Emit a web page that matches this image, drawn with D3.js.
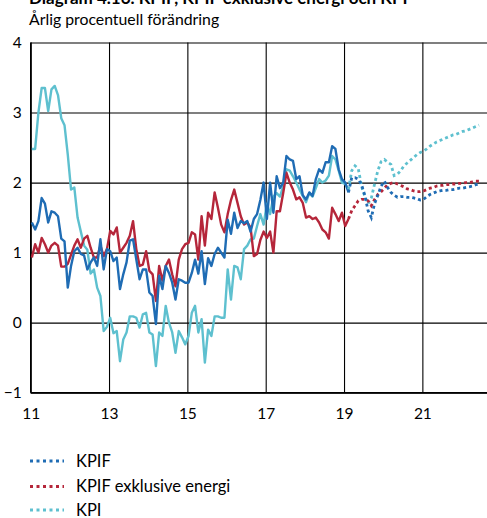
<!DOCTYPE html>
<html><head><meta charset="utf-8">
<script src="https://cdn.jsdelivr.net/npm/d3@7"></script>
<style>
html,body{margin:0;padding:0;background:#fff;}
svg{display:block;font-family:Lato,"Open Sans",sans-serif;}
</style></head>
<body>
<svg id="c" width="487" height="518"></svg>
<script>
const title = "Diagram 4.16. KPIF, KPIF exklusive energi och KPI";
const subtitle = "Årlig procentuell förändring";
const startYear = 2011;
const yTicks = [-1, 0, 1, 2, 3, 4];
const xTickYears = [2011, 2013, 2015, 2017, 2019, 2021];
const xTickLabels = ["11", "13", "15", "17", "19", "21"];
const seriesNames = ["KPIF", "KPIF exklusive energi", "KPI"];
const seriesColors = ["#1f6cb4", "#b5263a", "#5ec0cf"];

// Monthly outcomes from Jan 2011
const kpifActual = [1.43,1.33,1.45,1.78,1.7,1.43,1.59,1.57,1.52,1.2,1.16,0.5,0.81,1.02,1.07,0.98,0.96,0.76,0.86,0.93,0.81,1.19,0.76,1.05,
1.02,0.88,0.93,0.48,0.69,0.86,1.17,1.19,0.9,0.62,0.76,0.76,0.43,0.38,-0.02,0.67,0.48,0.81,0.71,0.57,0.33,0.62,0.6,0.57,
0.57,0.71,0.9,0.7,1.02,0.55,0.92,0.81,0.98,1.07,1.0,0.93,1.47,1.27,1.57,1.35,1.45,1.42,1.45,1.3,1.48,1.55,1.75,2.0,
1.48,2.0,1.57,2.09,1.92,2.0,2.38,2.33,2.31,2.05,2.09,1.82,1.76,1.86,1.81,2.05,2.19,2.14,2.29,2.29,2.52,2.48,2.19,2.05,
2.0,1.86];
const kpifExEnergyActual = [0.93,1.12,1.0,1.21,1.12,1.0,1.1,1.14,1.1,0.8,0.8,0.84,0.97,1.1,1.19,1.07,1.2,1.24,1.07,0.93,0.93,1.1,0.95,1.05,
1.31,1.26,1.36,1.0,1.07,1.14,1.24,1.45,1.05,0.81,0.83,1.02,0.74,0.69,0.31,0.81,0.6,0.81,0.9,0.69,0.52,0.9,1.05,1.12,
1.14,1.29,1.26,0.9,1.52,1.1,1.57,1.48,1.86,1.64,1.4,1.29,1.55,1.75,1.9,1.71,1.52,1.4,1.43,1.36,0.95,0.98,1.18,1.3,
1.21,1.3,1.0,1.59,1.59,1.85,2.14,2.0,1.9,1.76,1.79,1.71,1.5,1.52,1.48,1.5,1.43,1.33,1.29,1.2,1.64,1.55,1.45,1.57,
1.38,1.48];
const kpiActual = [2.48,2.48,3.0,3.35,3.35,3.02,3.33,3.38,3.25,2.92,2.82,2.4,1.9,1.93,1.5,1.3,1.1,1.04,0.7,0.76,0.5,0.38,-0.12,-0.06,
0.07,-0.15,-0.12,-0.55,-0.24,-0.14,0.09,0.09,0.07,-0.07,0.12,0.14,-0.14,-0.17,-0.62,-0.14,-0.19,0.24,0.0,-0.14,-0.43,-0.12,-0.21,-0.31,
-0.19,0.14,0.24,-0.14,0.05,-0.57,-0.1,-0.19,0.09,0.09,0.07,0.07,0.76,0.33,0.81,0.79,0.62,1.05,1.1,1.19,1.2,1.38,1.55,1.4,
1.7,1.55,1.8,1.85,1.8,1.95,2.19,2.17,2.09,2.0,1.9,1.81,1.72,1.85,1.8,1.92,2.05,2.0,2.03,2.1,2.38,2.33,2.17,2.0,
1.98,1.9];

// Monthly forecasts, starting at the last outcome month
const kpifForecast = [1.86,2.07,2.07,2.05,1.97,1.82,1.6,1.5,1.7,1.82,1.95,2.02,1.93,1.86,1.82,1.79,1.8,1.8,1.79,1.79,1.78,1.77,1.75,1.76,
1.8,1.83,1.85,1.87,1.88,1.89,1.89,1.9,1.9,1.91,1.92,1.92,1.93,1.94,1.95,1.97,1.98];
const kpifExEnergyForecast = [1.48,1.6,1.67,1.74,1.76,1.76,1.74,1.67,1.76,1.83,1.87,1.92,1.97,1.99,2.0,1.98,1.96,1.94,1.91,1.9,1.88,1.87,1.87,1.88,
1.9,1.92,1.93,1.95,1.96,1.96,1.97,1.97,1.98,1.98,1.99,1.99,2.0,2.0,2.01,2.02,2.02];
const kpiForecast = [1.9,2.17,2.24,2.2,1.95,1.8,1.7,1.78,1.98,2.17,2.3,2.33,2.29,2.26,2.1,2.12,2.17,2.24,2.28,2.32,2.36,2.4,2.43,2.45,
2.48,2.52,2.55,2.58,2.6,2.62,2.64,2.66,2.68,2.69,2.71,2.73,2.74,2.76,2.78,2.8,2.82];

const svg = d3.select("#c");
const x = d3.scaleLinear().domain([2011, 2023]).range([30.7, 500.7]);
const y = d3.scaleLinear().domain([-1, 4]).range([392.7, 42.5]);

// Title (cut by the top edge as in the reference) and subtitle
svg.append("text").attr("x", 29).attr("y", 4).attr("font-weight", "bold")
  .attr("font-size", 17).attr("fill", "#000").text(title);
svg.append("text").attr("x", 29).attr("y", 25).attr("font-size", 15.8)
  .attr("fill", "#000").text(subtitle);

// Horizontal grid + y labels
const gy = svg.append("g").attr("transform", "translate(30.7,0)")
  .call(d3.axisLeft(y).tickValues(yTicks).tickSize(-470).tickFormat(d3.format("d")).tickPadding(9));
gy.select(".domain").remove();
gy.selectAll(".tick line").attr("stroke", "#000").attr("stroke-width", 1.1);
gy.selectAll(".tick text").attr("font-size", 15.5).attr("fill", "#000")
  .attr("font-family", "Lato,'Open Sans',sans-serif");

// Vertical grid + x labels
const gx = svg.append("g").attr("transform", "translate(0,392.7)")
  .call(d3.axisBottom(x).tickValues(xTickYears).tickSize(-(392.7 - 42.5))
    .tickFormat((d, i) => xTickLabels[i]).tickPadding(15));
gx.select(".domain").remove();
gx.selectAll(".tick line").attr("stroke", "#000").attr("stroke-width", 1.1);
gx.selectAll(".tick text").attr("font-size", 15.5).attr("fill", "#000")
  .attr("font-family", "Lato,'Open Sans',sans-serif");

// Axis lines
svg.append("line").attr("x1", x(2011)).attr("x2", x(2011)).attr("y1", y(4)).attr("y2", y(-1))
  .attr("stroke", "#000").attr("stroke-width", 1.4);
svg.append("line").attr("x1", x(2011)).attr("x2", 487).attr("y1", y(-1)).attr("y2", y(-1))
  .attr("stroke", "#000").attr("stroke-width", 1.4);

const line = d3.line().x(d => x(d.t)).y(d => y(d.v));
const toPts = (arr, off) => arr.map((v, i) => ({ t: startYear + (i + off) / 12 + 0.03, v }));
const lastIdx = kpiActual.length - 1;

const actual = [kpiActual, kpifExEnergyActual, kpifActual];
const forecast = [kpiForecast, kpifExEnergyForecast, kpifForecast];
const colorsByDraw = [seriesColors[2], seriesColors[1], seriesColors[0]];

actual.forEach((arr, k) => {
  svg.append("path").datum(toPts(arr, 0)).attr("d", line)
    .attr("fill", "none").attr("stroke", colorsByDraw[k]).attr("stroke-width", 2.4)
    .attr("stroke-linejoin", "round");
});
forecast.forEach((arr, k) => {
  svg.append("path").datum(toPts(arr, lastIdx)).attr("d", line)
    .attr("fill", "none").attr("stroke", colorsByDraw[k]).attr("stroke-width", 2.8)
    .attr("stroke-dasharray", "3,3");
});

// Legend
const ly = [461, 486.5, 510];
seriesNames.forEach((name, i) => {
  svg.append("line").attr("x1", 30).attr("x2", 64).attr("y1", ly[i]).attr("y2", ly[i])
    .attr("stroke", seriesColors[i]).attr("stroke-width", 2.8).attr("stroke-dasharray", "3,3.5");
  svg.append("text").attr("x", 76).attr("y", ly[i] + 5.5).attr("font-size", 16.5)
    .attr("fill", "#000").text(name);
});
</script>
</body></html>
